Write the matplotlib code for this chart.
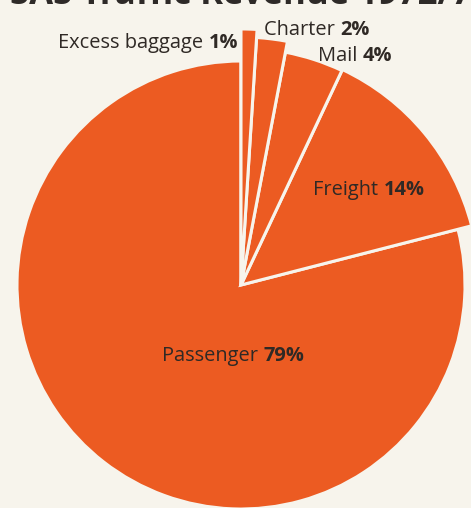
import matplotlib
matplotlib.use("Agg")
import matplotlib.pyplot as plt

# Revenue shares (%)
categories = ["Passenger", "Freight", "Mail", "Charter", "Excess baggage"]
shares = [79, 14, 4, 2, 1]
share_labels = ["79%", "14%", "4%", "2%", "1%"]
title_text = "SAS Traffic Revenue 1972/73"

# Styling
BG = "#F7F4EC"
ORANGE = "#EC5B22"
INK = "#2F2925"
W, H = 471, 508
CENTER = (241, H - 285)
RADIUS = 224
# radial length of each wedge relative to the main disc
radius_scale = [1.0, 1.063, 1.058, 1.107, 1.143]
# label anchor: left x and text baseline (pixel rows measured from the top)
label_pos = [(162, 361), (313, 195), (318, 61), (264, 35), (58, 48)]

plt.rcParams["font.family"] = ["Open Sans", "DejaVu Sans"]

fig = plt.figure(figsize=(W / 100, H / 100), dpi=100, facecolor=BG)
ax = fig.add_axes([0, 0, 1, 1])
ax.set_facecolor(BG)

wedges, _ = ax.pie(
    shares,
    startangle=90,
    counterclock=True,
    center=CENTER,
    radius=RADIUS,
    colors=[ORANGE] * len(shares),
    explode=[0, 0.006, 0, 0, 0],
    wedgeprops=dict(edgecolor=BG, linewidth=2.2),
)
for w, s in zip(wedges, radius_scale):
    w.set_radius(RADIUS * s)

ax.set_xlim(0, W)
ax.set_ylim(0, H)
ax.set_aspect("equal")
ax.axis("off")

# Labels: category name in regular weight followed by the bold share
fig.canvas.draw()
renderer = fig.canvas.get_renderer()
for name, pct, (lx, ly) in zip(categories, share_labels, label_pos):
    t = ax.text(lx, H - ly, name + " ", fontsize=14.4, color=INK,
                ha="left", va="baseline")
    bb = t.get_window_extent(renderer=renderer)
    x_end = ax.transData.inverted().transform((bb.x1, bb.y0))[0]
    ax.text(x_end, H - ly, pct, fontsize=14.4, color=INK, fontweight="bold",
            ha="left", va="baseline")

# Heading running off the top edge
ax.text(10, H - 4.5, title_text, fontsize=25, fontweight="bold", color="#2E2A28",
        ha="left", va="baseline", clip_on=False)

fig.savefig("out.png", dpi=100, facecolor=BG)
